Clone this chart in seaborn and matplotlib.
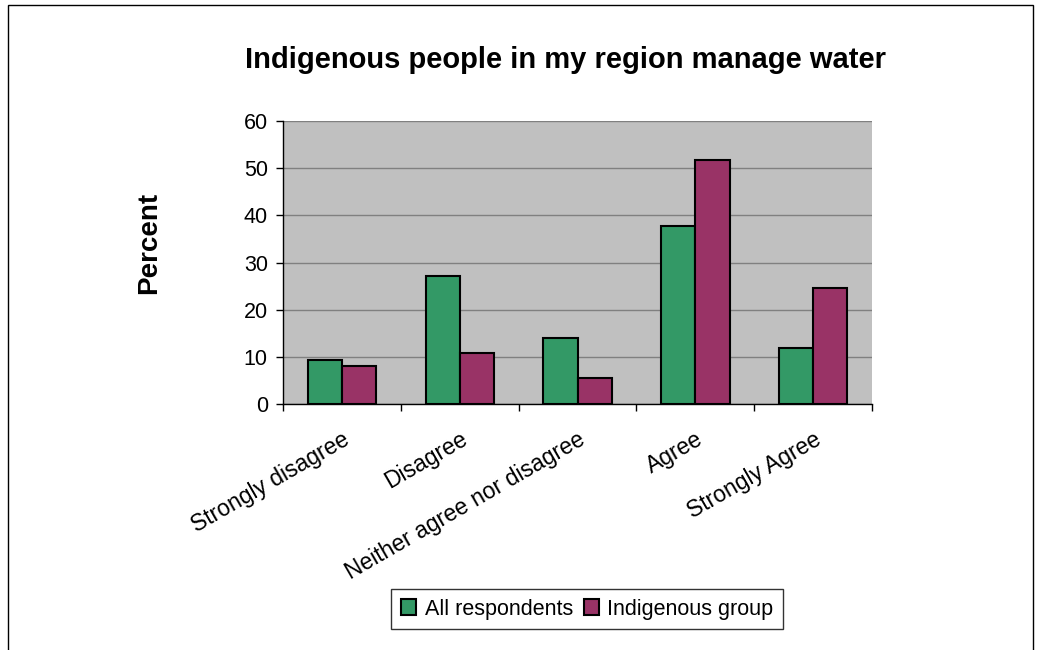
import pandas as pd
import seaborn as sns
import matplotlib.pyplot as plt
from matplotlib.patches import Rectangle

# Datos
categories = ['Strongly disagree', 'Disagree', 'Neither agree nor disagree', 'Agree', 'Strongly Agree']
all_respondents = [9.3, 27.1, 14.0, 37.7, 11.9]
indigenous_group = [8.0, 10.9, 5.6, 51.7, 24.5]
series_names = ['All respondents', 'Indigenous group']

df = pd.DataFrame({
    'category': categories * 2,
    'value': all_respondents + indigenous_group,
    'series': [series_names[0]] * len(categories) + [series_names[1]] * len(categories),
})

sns.set_style('white')
plt.rcParams['font.family'] = ['Liberation Sans', 'DejaVu Sans']
plt.rcParams['text.color'] = 'black'
plt.rcParams['axes.labelcolor'] = 'black'
plt.rcParams['xtick.color'] = 'black'
plt.rcParams['ytick.color'] = 'black'

fig = plt.figure(figsize=(10.41, 6.5), dpi=100)
ax = fig.add_axes([0.2719, 0.3785, 0.5658, 0.4353])
ax.set_facecolor('#C0C0C0')

sns.barplot(data=df, x='category', y='value', hue='series', order=categories,
            palette={'All respondents': '#339966', 'Indigenous group': '#993366'},
            edgecolor='black', linewidth=1.5, width=0.58, saturation=1, ax=ax, zorder=3)

ax.set_ylim(0, 60)
ax.set_xlim(-0.5, len(categories) - 0.5)
ax.set_yticks(range(0, 61, 10))
ax.yaxis.grid(True, color='#808080', linewidth=1)
ax.set_axisbelow(True)
for s in ['top', 'right']:
    ax.spines[s].set_visible(False)
for s in ['left', 'bottom']:
    ax.spines[s].set_color('black')
    ax.spines[s].set_linewidth(1)

ax.tick_params(axis='y', which='major', direction='out', length=5, width=1,
               labelsize=15.5, left=True, pad=6)
ax.set_xticks(range(len(categories)))
ax.set_xticklabels(categories, rotation=30, ha='right', rotation_mode='anchor', fontsize=16.5)
ax.tick_params(axis='x', which='major', length=0, pad=17)
ax.set_xticks([i - 0.5 for i in range(len(categories) + 1)], minor=True)
ax.tick_params(axis='x', which='minor', direction='out', length=5, width=1, bottom=True)

ax.set_xlabel('')
ax.set_ylabel('Percent', fontsize=20, fontweight='bold')
ax.yaxis.set_label_coords(-0.205, 0.57)

fig.text(0.543, 0.908, 'Indigenous people in my region manage water',
         ha='center', va='center', fontsize=21, fontweight='bold')

ax.get_legend().remove()
handles, labels = ax.get_legend_handles_labels()
leg = fig.legend(handles, labels, loc='center', bbox_to_anchor=(0.564, 0.063), ncol=2,
                 frameon=True, fancybox=False, edgecolor='black', fontsize=15.5,
                 handlelength=0.7, handleheight=0.7, handletextpad=0.4, columnspacing=0.5,
                 borderpad=0.45)
leg.get_frame().set_linewidth(1)

# borde exterior del área del gráfico
fig.patches.append(Rectangle((8 / 1041, -0.01), 1025 / 1041, 1 - 5 / 650 + 0.01,
                             transform=fig.transFigure, fill=False, edgecolor='black', linewidth=1))

plt.savefig('out.png', dpi=100)
